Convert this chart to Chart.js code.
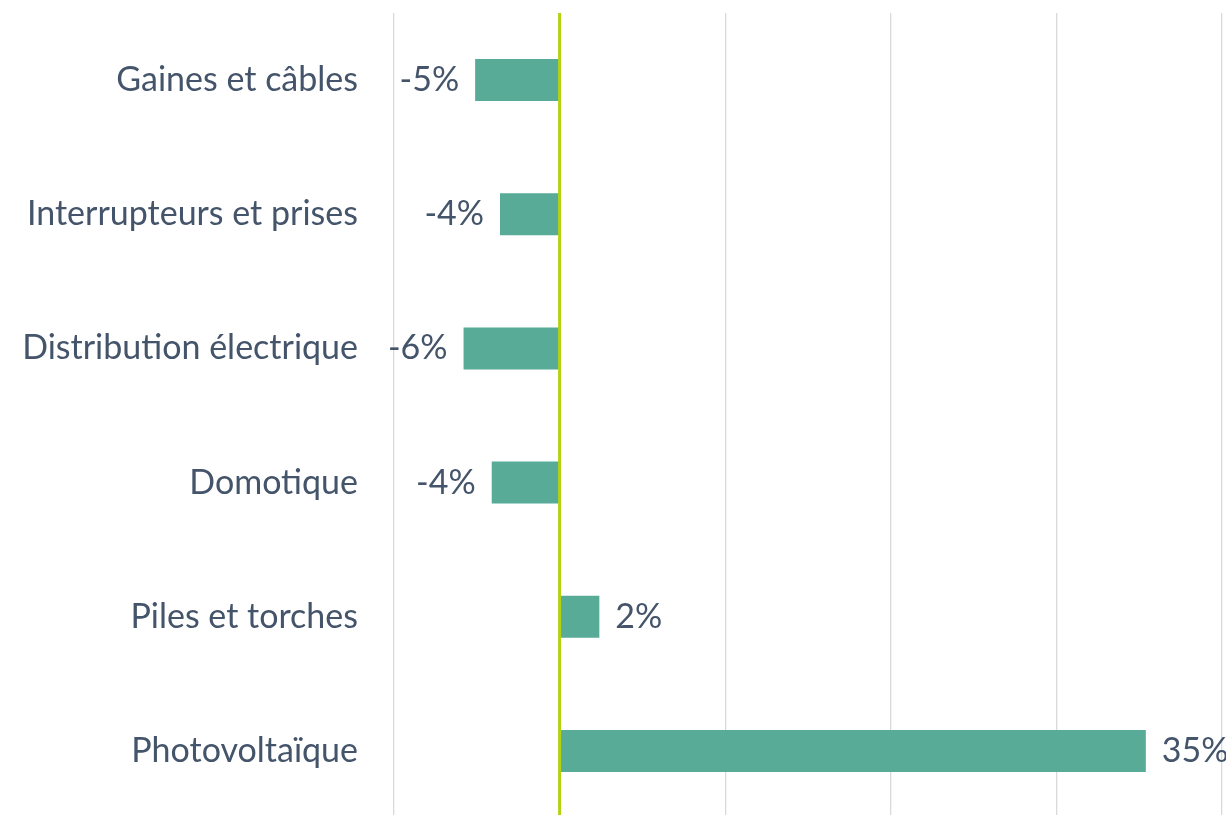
<!DOCTYPE html>
<html lang="fr">
<head>
  <meta charset="UTF-8">
  <title>Évolution par famille de produits</title>
  <script src="https://cdn.jsdelivr.net/npm/chart.js"></script>
  <style>
    html, body {
      margin: 0;
      padding: 0;
      background: #ffffff;
      overflow: hidden;
    }
    .chart-box {
      position: relative;
      width: 1226px;
      height: 818px;
    }
  </style>
</head>
<body>
  <div class="chart-box">
    <canvas id="barChart"></canvas>
  </div>

  <script>
    // données
    const categories = ['Gaines et câbles', 'Interrupteurs et prises', 'Distribution électrique', 'Domotique', 'Piles et torches', 'Photovoltaïque'];
    const evolution = [-5.1, -3.6, -5.8, -4.1, 2.4, 35.4];
    const xTicks = [-10, 0, 10, 20, 30, 40];

    const textColor = '#44546A';
    const fontFamily = 'Lato, "Open Sans", sans-serif';

    // axe zéro (par-dessus les barres) + étiquettes de valeur
    const valueLabels = {
      id: 'valueLabels',
      afterDatasetsDraw(chart) {
        const ctx = chart.ctx;
        const area = chart.chartArea;
        const x0 = chart.scales.x.getPixelForValue(0);
        ctx.save();
        ctx.strokeStyle = '#B5D20F';
        ctx.lineWidth = 3;
        ctx.beginPath();
        ctx.moveTo(x0, area.top);
        ctx.lineTo(x0, area.bottom);
        ctx.stroke();

        const meta = chart.getDatasetMeta(0);
        ctx.font = '34px ' + fontFamily;
        ctx.fillStyle = textColor;
        ctx.textBaseline = 'middle';
        meta.data.forEach((bar, i) => {
          const v = evolution[i];
          const txt = Math.round(v) + '%';
          if (v < 0) {
            ctx.textAlign = 'right';
            ctx.fillText(txt, bar.x - 16, bar.y);
          } else {
            ctx.textAlign = 'left';
            ctx.fillText(txt, bar.x + 16, bar.y);
          }
        });
        ctx.restore();
      }
    };

    new Chart(document.getElementById('barChart'), {
      type: 'bar',
      data: {
        labels: categories,
        datasets: [{
          data: evolution,
          backgroundColor: '#57AB97',
          categoryPercentage: 1,
          barPercentage: 0.313
        }]
      },
      options: {
        indexAxis: 'y',
        responsive: true,
        maintainAspectRatio: false,
        animation: false,
        layout: { padding: { top: 13, right: 4, bottom: 0, left: 0 } },
        plugins: {
          legend: { display: false },
          tooltip: { enabled: false }
        },
        scales: {
          x: {
            min: xTicks[0],
            max: xTicks[xTicks.length - 1],
            afterBuildTicks(axis) {
              axis.ticks = xTicks.map(v => ({ value: v }));
            },
            ticks: { display: false },
            border: { display: false },
            grid: {
              drawTicks: false,
              color: c => c.tick && c.tick.value === 0 ? 'rgba(0,0,0,0)' : '#D9D9D9',
              lineWidth: 1.3
            }
          },
          y: {
            border: { display: false },
            grid: { display: false, drawTicks: false },
            ticks: {
              padding: 36,
              color: textColor,
              font: { family: fontFamily, size: 34 }
            },
            afterFit(axis) {
              axis.width = 394;
              axis.paddingTop = 0;
              axis.paddingBottom = 0;
            }
          }
        }
      },
      plugins: [valueLabels]
    });
  </script>
</body>
</html>
